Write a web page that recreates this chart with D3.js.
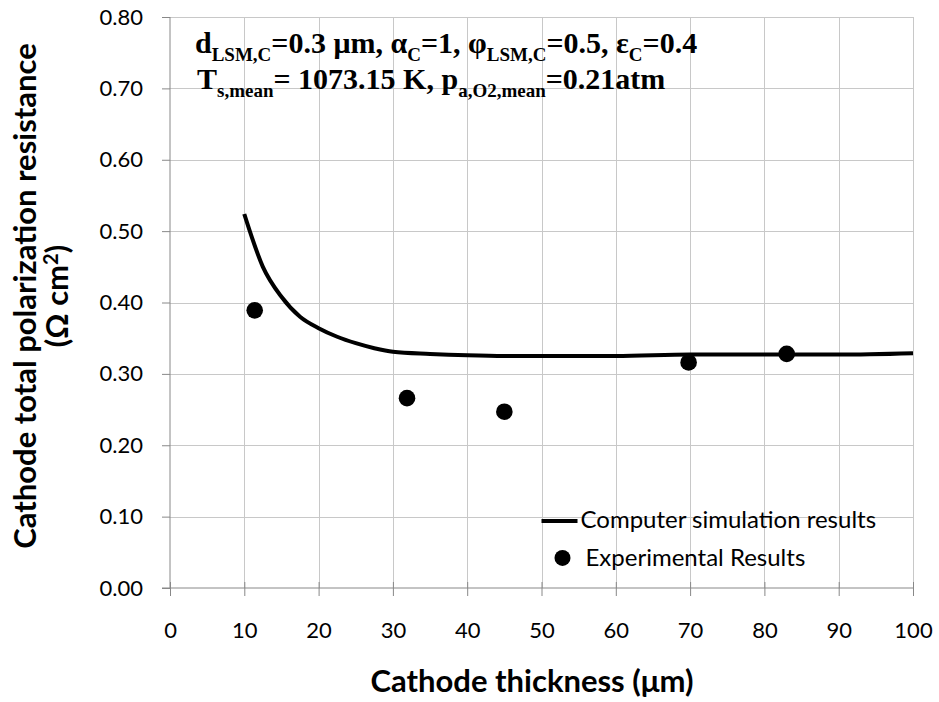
<!DOCTYPE html>
<html>
<head>
<meta charset="utf-8">
<script src="https://cdn.jsdelivr.net/npm/d3@7"></script>
<style>
  body { margin: 0; background: #fff; }
  svg { display: block; }
</style>
</head>
<body>
<svg id="chart"></svg>
<script>
// data
const simThickness = [10, 12.5, 15, 17.5, 20, 22.5, 25, 27.5, 30, 35, 40, 45, 50, 60, 70, 80, 90, 100];
const simResistance = [0.524, 0.450, 0.408, 0.380, 0.364, 0.352, 0.343, 0.336, 0.331, 0.328, 0.326, 0.325, 0.325, 0.325, 0.327, 0.327, 0.327, 0.329];
const expThickness = [11.4, 31.9, 45, 69.8, 83];
const expResistance = [0.389, 0.266, 0.247, 0.316, 0.328];
const xTicks = [0, 10, 20, 30, 40, 50, 60, 70, 80, 90, 100];
const yTicks = [0, 0.1, 0.2, 0.3, 0.4, 0.5, 0.6, 0.7, 0.8];

const W = 939, H = 702;
const margin = { top: 17, right: 26, bottom: 114, left: 170 };
const width = W - margin.left - margin.right;
const height = H - margin.top - margin.bottom;

const svg = d3.select("#chart").attr("width", W).attr("height", H);
const g = svg.append("g").attr("transform", `translate(${margin.left},${margin.top})`);

const x = d3.scaleLinear().domain([0, 100]).range([0, width]);
const y = d3.scaleLinear().domain([0, 0.8]).range([height, 0]);

const labelFont = "Lato, 'Open Sans', sans-serif";

// grid (dotted in the original, drawn as fine light lines)
g.append("g")
  .call(d3.axisBottom(x).tickValues(xTicks.slice(1)).tickSize(height).tickFormat(""))
  .call(s => s.select(".domain").remove())
  .selectAll(".tick line")
  .attr("stroke", "#c8c8c8")
  .attr("shape-rendering", "crispEdges");
g.append("g")
  .call(d3.axisLeft(y).tickValues(yTicks.slice(1)).tickSize(-width).tickFormat(""))
  .call(s => s.select(".domain").remove())
  .selectAll(".tick line")
  .attr("stroke", "#c8c8c8")
  .attr("shape-rendering", "crispEdges");

// y axis
const yAxis = g.append("g")
  .call(d3.axisLeft(y).tickValues(yTicks).tickFormat(d3.format(".2f")).tickSize(8).tickPadding(19));
yAxis.select(".domain").attr("stroke", "#888").attr("d", `M0,0V${height}`);
yAxis.selectAll(".tick line").attr("stroke", "#888");
yAxis.selectAll("text")
  .style("font-family", labelFont).style("font-size", "22px").attr("fill", "#000");

// x axis, ticks cross the line
const xAxis = g.append("g")
  .attr("transform", `translate(0,${height})`)
  .call(d3.axisBottom(x).tickValues(xTicks).tickSize(8).tickPadding(26));
xAxis.select(".domain").attr("stroke", "#888").attr("d", `M-8,0H${width}`);
xAxis.selectAll(".tick line").attr("stroke", "#888").attr("y1", -6);
xAxis.selectAll("text")
  .style("font-family", labelFont).style("font-size", "22px").attr("fill", "#000");

// simulation curve
const simData = simThickness.map((t, i) => [t, simResistance[i]]);
g.append("path")
  .datum(simData)
  .attr("fill", "none")
  .attr("stroke", "#000")
  .attr("stroke-width", 4)
  .attr("d", d3.line().x(d => x(d[0])).y(d => y(d[1])).curve(d3.curveMonotoneX));

// experimental points
g.append("g")
  .selectAll("circle")
  .data(expThickness.map((t, i) => [t, expResistance[i]]))
  .join("circle")
  .attr("cx", d => x(d[0]))
  .attr("cy", d => y(d[1]))
  .attr("r", 8.3)
  .attr("fill", "#000");

// annotation
const sub = (t, s) => {
  t.append("tspan").attr("baseline-shift", "-8px").style("font-size", "19px").text(s);
};
const ann = g.append("text")
  .attr("x", 25).attr("y", 36)
  .style("font-family", "'Liberation Serif', 'Times New Roman', serif")
  .style("font-weight", "bold").style("font-size", "30px");
ann.append("tspan").text("d");
sub(ann, "LSM,C");
ann.append("tspan").text("=0.3 μm,  α");
sub(ann, "C");
ann.append("tspan").text("=1, φ");
sub(ann, "LSM,C");
ann.append("tspan").text("=0.5, ε");
sub(ann, "C");
ann.append("tspan").text("=0.4");

const ann2 = g.append("text")
  .attr("x", 27).attr("y", 72)
  .style("font-family", "'Liberation Serif', 'Times New Roman', serif")
  .style("font-weight", "bold").style("font-size", "30px");
ann2.append("tspan").text("T");
sub(ann2, "s,mean");
ann2.append("tspan").text("= 1073.15 K, p");
sub(ann2, "a,O2,mean");
ann2.append("tspan").text("=0.21atm");

// legend
const legend = g.append("g").attr("transform", `translate(${x(50)},${y(0.094)})`);
legend.append("line").attr("x1", 0).attr("x2", 36).attr("y1", 0).attr("y2", 0)
  .attr("stroke", "#000").attr("stroke-width", 4);
legend.append("text").attr("x", 39).attr("y", 7)
  .style("font-family", labelFont).style("font-size", "24px").text("Computer simulation results");
legend.append("circle").attr("cx", 21).attr("cy", 37).attr("r", 8).attr("fill", "#000");
legend.append("text").attr("x", 44).attr("y", 45)
  .style("font-family", labelFont).style("font-size", "24px").text("Experimental Results");

// axis titles
svg.append("text")
  .attr("x", 532).attr("y", 692)
  .attr("text-anchor", "middle")
  .style("font-family", labelFont).style("font-weight", "bold").style("font-size", "31px")
  .text("Cathode thickness (μm)");

const yTitle = svg.append("text")
  .attr("transform", "translate(0,296) rotate(-90)")
  .attr("text-anchor", "middle")
  .style("font-family", labelFont).style("font-weight", "bold").style("font-size", "31px");
yTitle.append("tspan").attr("x", 0).attr("y", 36).text("Cathode total polarization resistance");
const l2 = yTitle.append("tspan").attr("x", 0).attr("y", 68).text("(Ω cm");
l2.append("tspan").attr("baseline-shift", "10px").style("font-size", "20px").text("2");
l2.append("tspan").text(")");
</script>
</body>
</html>
